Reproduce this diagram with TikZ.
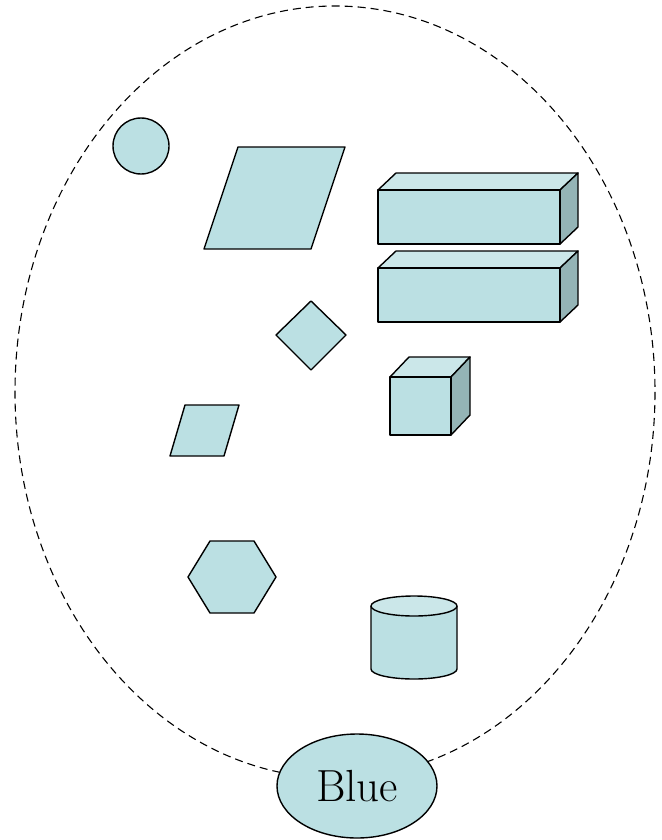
\documentclass[tikz,border=0pt]{standalone}
\usepackage{amsmath,amssymb}
\usetikzlibrary{calc,shapes.geometric}
\definecolor{paleblue}{RGB}{187,224,227}
\definecolor{topblue}{RGB}{203,231,233}
\definecolor{sideblue}{RGB}{148,180,182}
\tikzset{
	solid/.style={draw=black,line width=1.4pt,fill=paleblue,line join=round},
	topface/.style={solid,fill=topblue},
	sideface/.style={solid,fill=sideblue},
	outline/.style={draw=black,line width=1.1pt,dash pattern=on 8pt off 5pt}
}
\begin{document}
\begin{tikzpicture}[x=1pt,y=-1pt]
	\useasboundingbox (0,0) rectangle (661,840);
	% dashed set
	\draw[outline] (335,392) ellipse [x radius=320,y radius=386];
	% circle and parallelograms
	\draw[solid] (141,146) circle [radius=28];
	\draw[solid] (238,147)--(345,147)--(311,249)--(204,249)--cycle;
	\draw[solid] (185,405)--(239,405)--(224,456)--(170,456)--cycle;
	% diamond
	\draw[solid] (311,301)--(346,335)--(311,370)--(276,335)--cycle;
	% hexagon
	\draw[solid] (188,577)--(210,541)--(254,541)--(276,577)--(254,613)--(210,613)--cycle;
	% two long boxes
	\foreach \y in {190,268}{
		\draw[topface] (378,\y)--(396,\y-17)--(578,\y-17)--(560,\y)--cycle;
		\draw[sideface] (560,\y)--(578,\y-17)--(578,\y+37)--(560,\y+54)--cycle;
		\draw[solid] (378,\y) rectangle (560,\y+54);
	}
	% cube
	\draw[topface] (390,377)--(409,357)--(470,357)--(451,377)--cycle;
	\draw[sideface] (451,377)--(470,357)--(470,415)--(451,435)--cycle;
	\draw[solid] (390,377) rectangle (451,435);
	% cylinder
	\draw[solid] (371,606)--(371,669) arc [start angle=180,end angle=0,x radius=43,y radius=10]--(457,606);
	\draw[topface] (414,606) ellipse [x radius=43,y radius=10];
	% label
	\node[solid,ellipse,minimum width=160pt,minimum height=104pt,inner sep=0pt,
		font=\fontsize{45}{50}\selectfont] (blue) at (357,786) {Blue};
\end{tikzpicture}
\end{document}
